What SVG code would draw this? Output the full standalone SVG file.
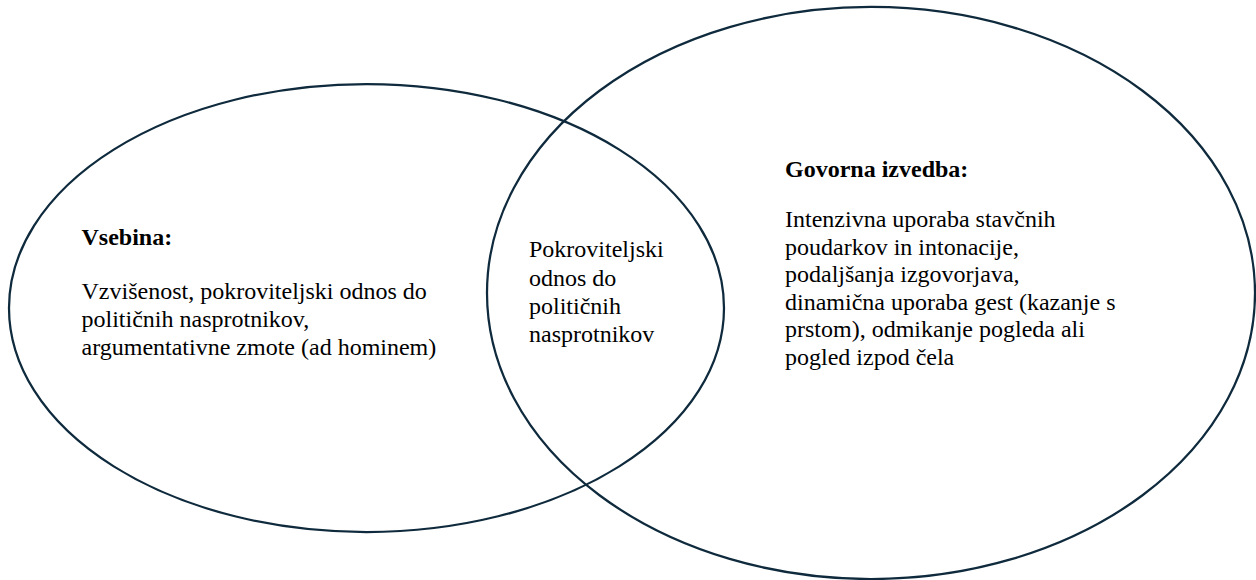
<svg xmlns="http://www.w3.org/2000/svg" width="1256" height="580" viewBox="0 0 1256 580">
  <style>
    .circle { fill: none; stroke: #0e2a3c; stroke-width: 2.25; }
    .txt { font-family: "Liberation Serif", "Times New Roman", serif; font-size: 24px; fill: #000000; }
    .head { font-weight: bold; }
  </style>
  <rect x="0" y="0" width="1256" height="580" fill="#ffffff"/>
  <g id="vsebina">
    <ellipse class="circle" cx="366.5" cy="308" rx="357.5" ry="224"/>
    <text class="txt head" x="81.5" y="245">Vsebina:</text>
    <text class="txt" x="81.5" y="299">Vzvišenost, pokroviteljski odnos do</text>
    <text class="txt" x="81.5" y="327">političnih nasprotnikov,</text>
    <text class="txt" x="81.5" y="355">argumentativne zmote (ad hominem)</text>
  </g>
  <g id="govorna-izvedba">
    <ellipse class="circle" cx="871" cy="293" rx="384" ry="286"/>
    <text class="txt head" x="785" y="177">Govorna izvedba:</text>
    <text class="txt" x="785" y="227">Intenzivna uporaba stavčnih</text>
    <text class="txt" x="785" y="254.5">poudarkov in intonacije,</text>
    <text class="txt" x="785" y="282">podaljšanja izgovorjava,</text>
    <text class="txt" x="785" y="309.5">dinamična uporaba gest (kazanje s</text>
    <text class="txt" x="785" y="337">prstom), odmikanje pogleda ali</text>
    <text class="txt" x="785" y="364.5">pogled izpod čela</text>
  </g>
  <g id="presek">
    <text class="txt" x="529" y="257">Pokroviteljski</text>
    <text class="txt" x="529" y="285.5">odnos do</text>
    <text class="txt" x="529" y="314">političnih</text>
    <text class="txt" x="529" y="342">nasprotnikov</text>
  </g>
</svg>
